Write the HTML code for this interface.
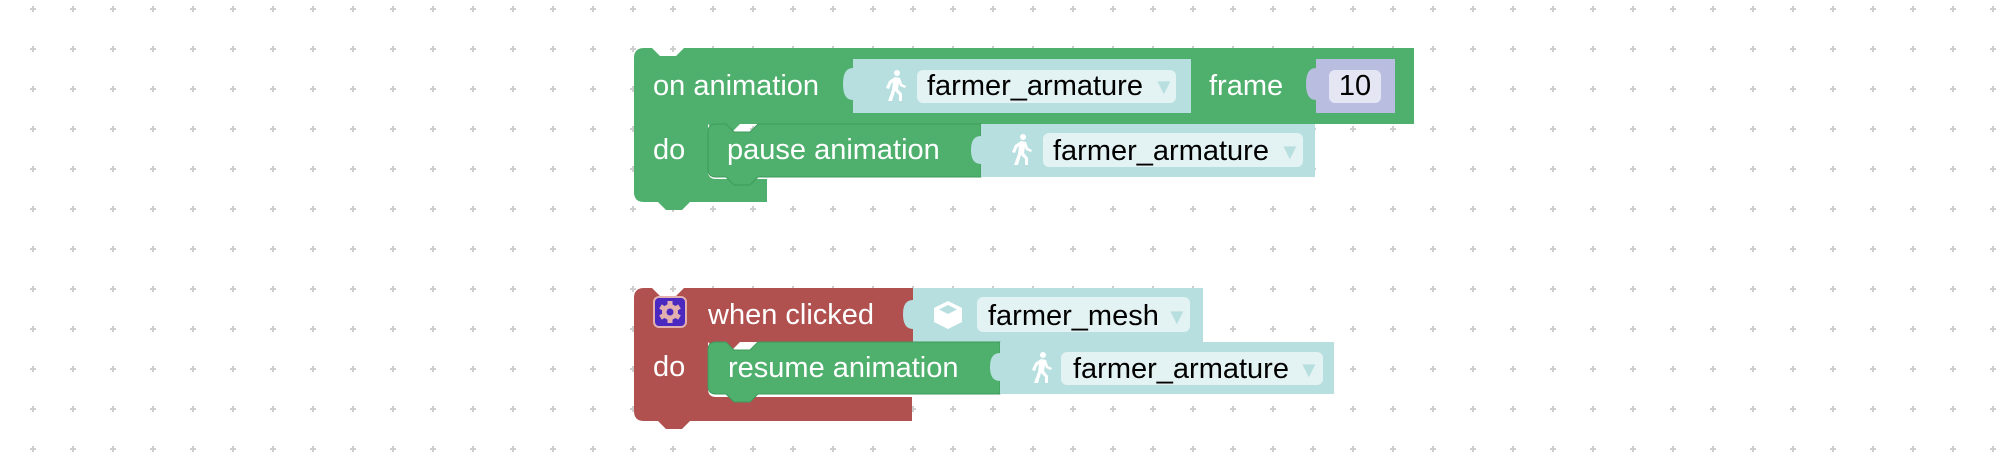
<!DOCTYPE html>
<html><head><meta charset="utf-8"><style>
html,body{margin:0;padding:0;background:#fff;}
svg{display:block;}
text{font-family:"Liberation Sans",sans-serif;font-size:29px;}
.w{fill:#fff;}
.b{fill:#000;}
.ar{fill:#b8dfdf;font-size:22px;}
</style></head><body>
<svg width="2000" height="464" viewBox="0 0 2000 464" xmlns="http://www.w3.org/2000/svg">
<defs>
<pattern id="g" x="13" y="-11" width="40" height="40" patternUnits="userSpaceOnUse">
<rect x="17" y="19" width="6" height="2" fill="#cfcfcf"/><rect x="19" y="17" width="2" height="6" fill="#cfcfcf"/>
</pattern>
<g id="walk" fill="#fff">
<circle cx="4" cy="-13" r="3"/>
<path d="M2,-9 L7,-8 L9,-2 L13,0 L12,2 L7,0 L6,-3 L5,3 L9,8 L9,15 L6,15 L6,9 L2,5 L-1,15 L-5,15 L-1,4 L0,-4 L-2,-2 L-4,3 L-7,2 L-4,-5 Z"/>
</g>
</defs>
<rect width="2000" height="464" fill="url(#g)"/>

<!-- Block 1 -->
<path d="M634,58 Q634,48 644,48 L652,48 L660,56 L676,56 L684,48 L1414,48 L1414,124 L740,124 L732,132 L716,132 L708,124 L708,124 Q708,124 708,132 L708,171 Q708,179 716,179 L767,179 L767,202 L690,202 L682,210 L666,210 L658,202 L644,202 Q634,202 634,192 Z" fill="#4fb06d"/>
<!-- input 1 -->
<path d="M853,59 L1191,59 L1191,113 L853,113 L853,100 Q843,100 843,84 Q843,68 853,68 Z" fill="#b8dfdf"/>
<rect x="917" y="70" width="259" height="33" rx="6" fill="#e3f2f2"/>
<use href="#walk" x="893" y="86"/>
<text x="927" y="95" class="b">farmer_armature</text>
<text x="1153" y="94" class="ar">▼</text>
<text x="653" y="95" class="w">on animation</text>
<text x="1209" y="95" class="w">frame</text>
<path d="M1316,59 L1395,59 L1395,113 L1316,113 L1316,100 Q1306,100 1306,84 Q1306,68 1316,68 Z" fill="#b9bde0"/>
<rect x="1329" y="70" width="52" height="33" rx="6" fill="#e4e6f4"/>
<text x="1355" y="95" class="b" text-anchor="middle">10</text>
<text x="653" y="159" class="w">do</text>
<!-- pause block -->
<path d="M708,132 Q708,124 716,124 L726,124 L734,132 L750,132 L758,124 L981,124 L981,177 L758,177 L750,185 L734,185 L726,177 L716,177 Q708,177 708,169 Z" fill="#4fb06d" stroke="#3f9a5c" stroke-width="1"/>
<path d="M981,124 L1315,124 L1315,177 L981,177 L981,164 Q971,164 971,150 Q971,136 981,136 Z" fill="#b8dfdf"/>
<rect x="1043" y="133" width="260" height="34" rx="6" fill="#e3f2f2"/>
<use href="#walk" x="1019" y="150"/>
<text x="727" y="159" class="w">pause animation</text>
<text x="1053" y="160" class="b">farmer_armature</text>
<text x="1279" y="159" class="ar">▼</text>

<!-- Block 2 -->
<path d="M634,298 Q634,288 644,288 L652,288 L660,296 L676,296 L684,288 L913,288 L913,342 L740,342 L732,350 L716,350 L708,342 Q708,342 708,350 L708,389 Q708,397 716,397 L912,397 L912,421 L690,421 L682,429 L666,429 L658,421 L644,421 Q634,421 634,411 Z" fill="#b0504f"/>
<path d="M913,288 L1203,288 L1203,342 L913,342 L913,329 Q903,329 903,314 Q903,300 913,300 Z" fill="#b8dfdf"/>
<rect x="977" y="297" width="213" height="35" rx="6" fill="#e3f2f2"/>
<g fill="#fff"><path d="M948,301 L962,308 L962,322 L948,329 L934,322 L934,308 Z"/><path d="M948,305 L957,309.5 L948,314 L939,309.5 Z" fill="#b8dfdf"/><path d="M939,313 L946,316.5 L946,325 L939,321 Z" fill="#b8dfdf" opacity="0"/></g>
<rect x="654" y="297" width="32" height="30" rx="5" fill="#4b28c0" stroke="#e3b0b0" stroke-width="2"/>
<g fill="#e3b0b0" transform="translate(670,312)">
<circle r="8"/><rect x="-2.5" y="-11" width="5" height="22"/><rect x="-2.5" y="-11" width="5" height="22" transform="rotate(60)"/><rect x="-2.5" y="-11" width="5" height="22" transform="rotate(120)"/>
<circle r="3.5" fill="#4b28c0"/>
</g>
<text x="708" y="324" class="w">when clicked</text>
<text x="988" y="325" class="b">farmer_mesh</text>
<text x="1166" y="324" class="ar">▼</text>
<text x="653" y="376" class="w">do</text>
<!-- resume block -->
<path d="M708,350 Q708,342 716,342 L726,342 L734,350 L750,350 L758,342 L1000,342 L1000,394 L758,394 L750,402 L734,402 L726,394 L716,394 Q708,394 708,386 Z" fill="#4fb06d" stroke="#3f9a5c" stroke-width="1"/>
<path d="M1000,342 L1334,342 L1334,394 L1000,394 L1000,381 Q990,381 990,367 Q990,353 1000,353 Z" fill="#b8dfdf"/>
<rect x="1061" y="352" width="262" height="33" rx="6" fill="#e3f2f2"/>
<use href="#walk" x="1039" y="368"/>
<text x="728" y="377" class="w">resume animation</text>
<text x="1073" y="378" class="b">farmer_armature</text>
<text x="1298" y="377" class="ar">▼</text>
</svg>
</body></html>
